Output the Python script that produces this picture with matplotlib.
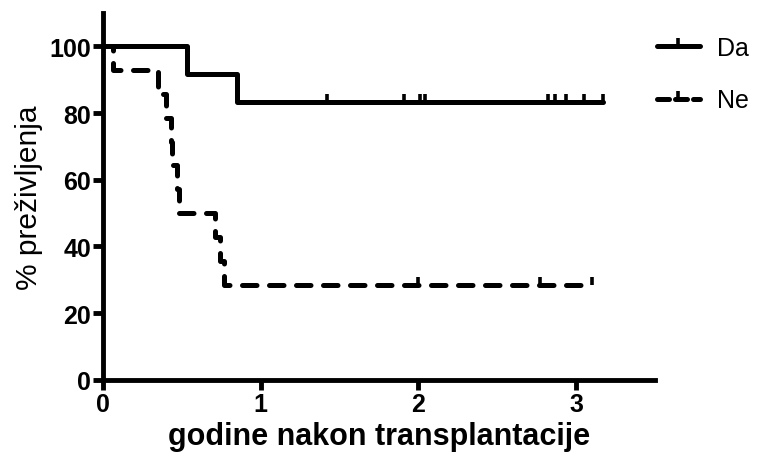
import numpy as np
import matplotlib
matplotlib.use("Agg")
import matplotlib.pyplot as plt
from matplotlib.lines import Line2D

# Data (Kaplan-Meier step curves)
da_time = [0, 0.53, 0.85, 3.17]
da_surv = [100, 91.67, 83.33, 83.33]
da_censor = [1.42, 1.91, 2.01, 2.04, 2.82, 2.87, 2.94, 3.05, 3.17]

ne_time = [0, 0.06, 0.35, 0.40, 0.43, 0.44, 0.47, 0.48, 0.71, 0.74, 0.77, 3.10]
ne_surv = [100, 92.86, 85.71, 78.57, 71.43, 64.29, 57.14, 50, 42.86, 35.71, 28.57, 28.57]
ne_censor = [2.0, 2.77, 3.10]

series_names = ["Da", "Ne"]
x_ticks = [0, 1, 2, 3]
y_ticks = [0, 20, 40, 60, 80, 100]

def step_val(times, surv, t):
    idx = np.searchsorted(times, t, side="right") - 1
    return np.asarray(surv)[idx]

plt.rcParams['font.family'] = ['Liberation Sans', 'DejaVu Sans']
fig = plt.figure(figsize=(7.64, 4.64), dpi=100)
ax = fig.add_axes([0.135, 0.179, 0.722, 0.791])

lw = 3.6
ax.step(da_time, da_surv, where="post", color="black", lw=lw, solid_capstyle="round", clip_on=False)
ax.plot(da_censor, step_val(da_time, da_surv, da_censor), ls="none", marker=2,
        ms=5.5, mew=2.6, color="black", clip_on=False)

l2, = ax.step(ne_time, ne_surv, where="post", color="black", lw=lw, dash_capstyle="round", clip_on=False)
l2.set_dashes([2.9, 2.5])
ax.plot(ne_censor, step_val(ne_time, ne_surv, ne_censor), ls="none", marker=2,
        ms=5.5, mew=2.6, color="black", clip_on=False)

ax.set_xlim(0, 3.5)
ax.set_ylim(0, 110)
ax.set_xticks(x_ticks)
ax.set_yticks(y_ticks)
for s in ["top", "right"]:
    ax.spines[s].set_visible(False)
for s in ["left", "bottom"]:
    ax.spines[s].set_linewidth(3.5)
ax.tick_params(axis="both", width=3.5, length=7, labelsize=18, pad=1.5)
for lab in ax.get_xticklabels() + ax.get_yticklabels():
    lab.set_fontweight("bold")
ax.set_xlabel("godine nakon transplantacije", fontsize=22, fontweight="bold", labelpad=4)
ax.set_ylabel("% preživljenja", fontsize=21.5, labelpad=5)

h1 = Line2D([0], [0], color="black", lw=lw, marker=2, ms=6, mew=2.6, markevery=[1], solid_capstyle="round")
h2 = Line2D([0], [0], color="black", lw=lw, marker=2, ms=6, mew=2.6, dash_capstyle="round")
h2.set_dashes([2.4, 1.2])
leg = fig.legend([h1, h2], series_names, loc="upper left", bbox_to_anchor=(0.86, 0.921),
                 frameon=False, fontsize=18, handlelength=1.7, labelspacing=1.15,
                 handletextpad=0.7, borderpad=0, borderaxespad=0)

fig.savefig("out.png", dpi=100)
